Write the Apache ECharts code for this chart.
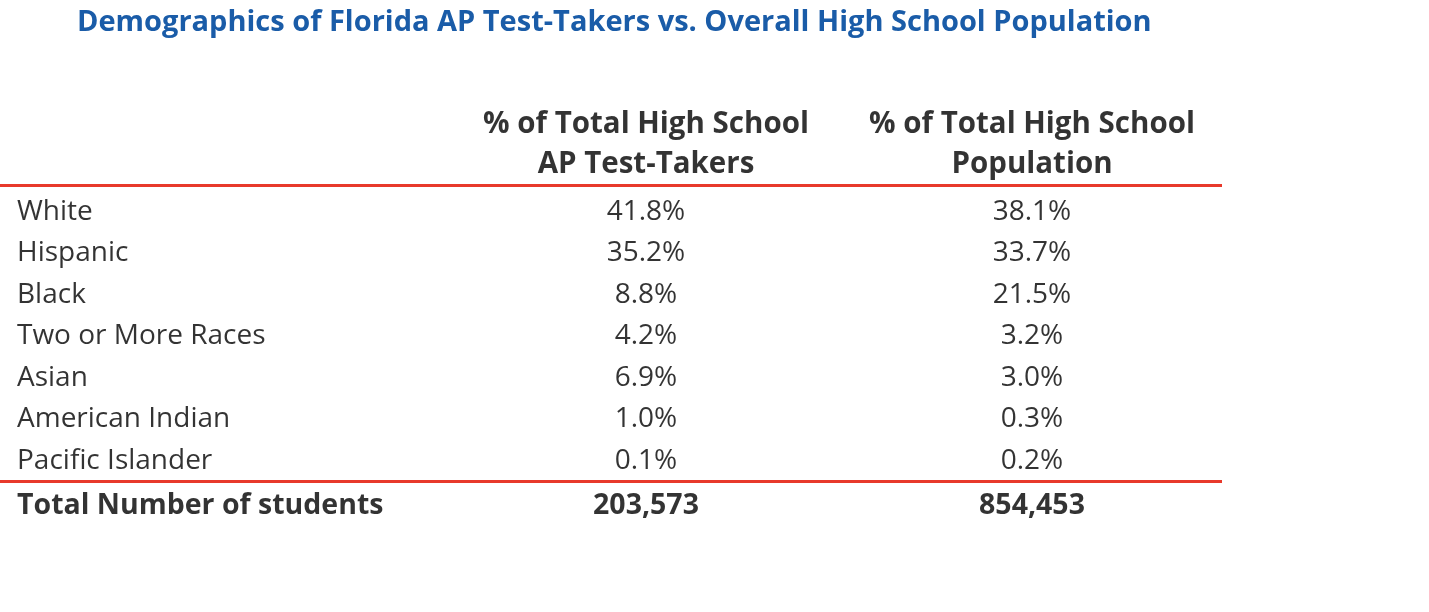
<!DOCTYPE html>
<html><head><meta charset="utf-8">
<script src="https://cdn.jsdelivr.net/npm/echarts@6/dist/echarts.min.js"></script>
<style>html,body{margin:0;padding:0;background:#fff}#c{width:1429px;height:612px}</style>
</head><body><div id="c"></div>
<script>
const title = 'Demographics of Florida AP Test-Takers vs. Overall High School Population';
const headers = ['% of Total High School\nAP Test-Takers', '% of Total High School\nPopulation'];
const categories = ['White','Hispanic','Black','Two or More Races','Asian','American Indian','Pacific Islander'];
const apTakers = [41.8, 35.2, 8.8, 4.2, 6.9, 1.0, 0.1];
const hsPop = [38.1, 33.7, 21.5, 3.2, 3.0, 0.3, 0.2];
const totalLabel = 'Total Number of students';
const totals = [203573, 854453];

// layout
const X_LABEL = 17, X_C1 = 646, X_C2 = 1032;
const ROW0 = 212, ROWSTEP = 41.5, HEADER_Y = 145, TOTAL_Y = 506;
const FONT = '"Open Sans", "Noto Sans", sans-serif';
const fmt = n => n.toLocaleString('en-US');

const rowY = i => ROW0 + i * ROWSTEP;
const txt = (size, weight, align) => ({show:true, position:'inside', fontFamily:FONT, fontSize:size, fontWeight:weight, color:'#000', align:align, verticalAlign:'middle', lineHeight:40});

const series = [
  {type:'scatter', symbolSize:0, data: categories.map((c,i)=>({value:[X_LABEL,rowY(i)], name:c})),
   label:{...txt(28,'normal','left'), formatter:p=>p.name}},
  {type:'scatter', symbolSize:0, data: apTakers.map((v,i)=>({value:[X_C1,rowY(i)], name:v.toFixed(1)+'%'})),
   label:{...txt(28,'normal','center'), formatter:p=>p.name}},
  {type:'scatter', symbolSize:0, data: hsPop.map((v,i)=>({value:[X_C2,rowY(i)], name:v.toFixed(1)+'%'})),
   label:{...txt(28,'normal','center'), formatter:p=>p.name}},
  {type:'scatter', symbolSize:0, data: [
      {value:[X_C1,HEADER_Y], name:headers[0]}, {value:[X_C2,HEADER_Y], name:headers[1]}],
   label:{...txt(29.5,'bold','center'), formatter:p=>p.name}},
  {type:'scatter', symbolSize:0, data: [
      {value:[X_LABEL,TOTAL_Y], name:totalLabel},
      {value:[X_C1,TOTAL_Y], name:fmt(totals[0])}, {value:[X_C2,TOTAL_Y], name:fmt(totals[1])}],
   label:{...txt(28.5,'bold','center'), formatter:p=>p.name},
   markLine:{silent:true, symbol:'none', label:{show:false},
     lineStyle:{color:'#e8392b', width:3, type:'solid'},
     data:[{yAxis:185},{yAxis:481}]}}
];
series[4].data[0].label = {align:'left'};

const chart = echarts.init(document.getElementById('c'), null, {renderer:'canvas'});
chart.setOption({
  animation:false,
  title:{text:title, left:72, top:3, textStyle:{fontFamily:FONT, fontSize:29, fontWeight:'bold', color:'#1a5ca8'}},
  grid:{left:0, right:207, top:0, bottom:0},
  xAxis:{type:'value', min:0, max:1222, show:false},
  yAxis:{type:'value', min:0, max:612, inverse:true, show:false},
  series
});
</script></body></html>
